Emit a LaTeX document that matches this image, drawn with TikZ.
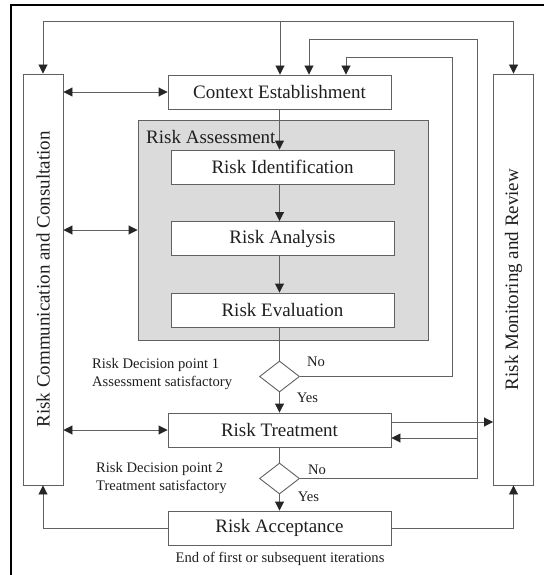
\documentclass[tikz,border=0pt]{standalone}
\usepackage{fontspec}
\setmainfont{Liberation Serif}
\usepackage{tikz}
\usetikzlibrary{arrows.meta,shapes.geometric}

\begin{document}
\begin{tikzpicture}[x=1pt, y=-1pt,
    blk/.style={draw=black!62, line width=0.9pt, fill=white, minimum width=223pt, minimum height=34pt,
                inner sep=0pt, text=black!88, font=\fontsize{19}{22}\selectfont},
    side/.style={blk, rotate=90, minimum width=411pt, minimum height=40pt},
    grp/.style={draw=black!62, line width=0.9pt, fill=black!14, minimum width=290pt, minimum height=220pt},
    dec/.style={diamond, draw=black!62, line width=0.9pt, fill=white, minimum width=40pt, minimum height=31pt, inner sep=0pt},
    lbl/.style={inner sep=0pt, text=black!88, font=\fontsize{14.6}{18}\selectfont, align=left},
    ln/.style={draw=black!62, line width=0.9pt},
    arr/.style={ln, -{Triangle[length=9pt, width=9pt, color=black!85]}},
    dbl/.style={ln, {Triangle[length=9pt, width=9pt, color=black!85]}-{Triangle[length=9pt, width=9pt, color=black!85]}}
  ]
  \useasboundingbox (0,0) rectangle (544,575);
  \draw[line width=1.4pt] (11,575) -- (11,5) -- (544,5);

  % side bars
  \node[side] (comm) at (43,279.5) {Risk Communication and Consultation};
  \node[side] (mon)  at (513.5,279.5) {Risk Monitoring and Review};

  % main column
  \node[blk] (ce) at (279.5,92) {Context Establishment};
  \node[grp] (assess) at (283,230) {};
  \node[lbl, anchor=west, font=\fontsize{19}{22}\selectfont] (assesslbl) at (146,137) {Risk Assessment};
  \node[blk] (ri) at (282.5,167)   {Risk Identification};
  \node[blk] (ra) at (282.5,238.5) {Risk Analysis};
  \node[blk] (re) at (282.5,310)   {Risk Evaluation};
  \node[dec] (d1) at (279.5,376.5) {};
  \node[blk] (rt) at (279.5,430)   {Risk Treatment};
  \node[dec] (d2) at (279.5,478.5) {};
  \node[blk] (acc) at (279.5,528)  {Risk Acceptance};

  % decision texts
  \node[lbl, anchor=west] (q1) at (92,374) {Risk Decision point 1\\Assessment satisfactory};
  \node[lbl, anchor=west] (q2) at (96,478) {Risk Decision point 2\\Treatment satisfactory};
  \node[lbl] (no1)  at (316,362)   {No};
  \node[lbl] (yes1) at (307.5,398) {Yes};
  \node[lbl] (no2)  at (317,470)   {No};
  \node[lbl] (yes2) at (308.5,497) {Yes};
  \node[lbl] (endit) at (280,559)  {End of first or subsequent iterations};

  % top feed
  \coordinate (t0) at (280,21);
  \draw[arr] (t0) -| (comm.east);
  \draw[arr] (t0) -| (mon.east);
  \draw[arr] (t0) -- (t0 |- ce.north);

  % flow down
  \draw[arr] (ce.south) -- (ce.south |- ri.north);
  \draw[arr] (ri.south -| ce.south) -- (ra.north -| ce.south);
  \draw[arr] (ra.south -| ce.south) -- (re.north -| ce.south);
  \draw[ln]  (re.south -| ce.south) -- (d1.north);
  \draw[arr] (d1.south) -- (rt.north);
  \draw[ln]  (rt.south) -- (d2.north);
  \draw[arr] (d2.south) -- (acc.north);

  % "No" loops
  \coordinate (n1) at (452,57);
  \coordinate (n1a) at (346,57);
  \draw[arr] (d1.east) -| (n1) -- (n1a) -- (n1a |- ce.north);
  \coordinate (n2) at (477,39);
  \coordinate (n2a) at (309,39);
  \draw[arr] (d2.east) -| (n2) -- (n2a) -- (n2a |- ce.north);
  \draw[arr] ([yshift=-8pt]rt.east -| n2) -- ([yshift=-8pt]rt.east);
  \draw[arr] ([yshift=8pt]rt.east) -- ([yshift=8pt]rt.east -| mon.north);

  % communication links
  \draw[dbl] (ce.west) -- (ce.west -| comm.south);
  \draw[dbl] (assess.west) -- (assess.west -| comm.south);
  \draw[dbl] (rt.west) -- (rt.west -| comm.south);

  % acceptance back to side bars
  \draw[arr] (acc.west) -| (comm.west);
  \draw[arr] (acc.east) -| (mon.west);
\end{tikzpicture}
\end{document}
